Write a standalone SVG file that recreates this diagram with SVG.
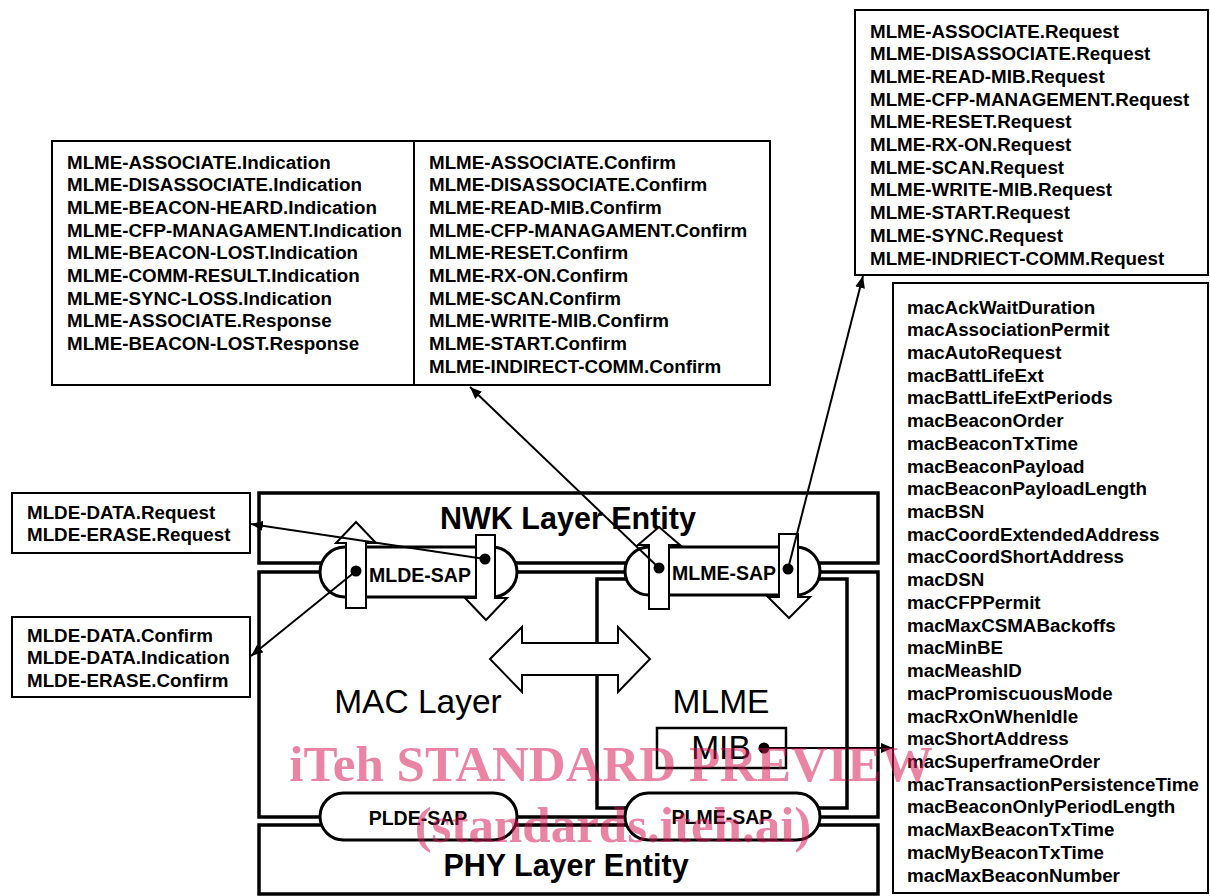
<svg xmlns="http://www.w3.org/2000/svg" width="1210" height="896" viewBox="0 0 1210 896">
<defs>
<style>
.box{fill:#fff;stroke:#000;stroke-width:2}
.layer{fill:none;stroke:#000;stroke-width:3.5}
.sap{fill:#fff;stroke:#000;stroke-width:3}
.harrow{fill:#fff;stroke:#000;stroke-width:2}
.t{font-family:"Liberation Sans",Arial,sans-serif;font-weight:bold;font-size:18.8px;fill:#000}
.saplbl{font-family:"Liberation Sans",Arial,sans-serif;font-weight:bold;font-size:19.5px;fill:#000;text-anchor:middle}
.big{font-family:"Liberation Sans",Arial,sans-serif;font-weight:bold;font-size:30.5px;fill:#000;text-anchor:middle}
.reg{font-family:"Liberation Sans",Arial,sans-serif;font-size:33.5px;fill:#000;text-anchor:middle}
.conn{stroke:#000;stroke-width:2;fill:none}
.wm{font-family:"Liberation Serif","Times New Roman",serif;font-weight:bold;font-size:51px;fill:rgb(215,20,80);fill-opacity:0.52;text-anchor:middle}
</style>
<marker id="ah" viewBox="0 0 12 10" refX="12" refY="5" markerWidth="12" markerHeight="10" markerUnits="userSpaceOnUse" orient="auto">
<path d="M0,0 L12,5 L0,10 z" fill="#000"/>
</marker>
</defs>
<rect width="1210" height="896" fill="#fff"/>

<g id="nwk-layer">
<rect class="layer" x="259" y="493" width="619" height="70"/>
<text class="big" x="568" y="529">NWK Layer Entity</text>
</g>
<g id="mac-layer">
<rect class="layer" x="259" y="572" width="619" height="245"/>
<text class="reg" x="418" y="713">MAC Layer</text>
</g>
<g id="mlme">
<rect class="layer" x="597" y="579" width="250" height="229"/>
<text class="reg" x="721" y="713">MLME</text>
</g>
<g id="phy-layer">
<rect class="layer" x="259" y="825" width="619" height="69"/>
<text class="big" x="566" y="876">PHY Layer Entity</text>
</g>
<g id="mib">
<rect x="657" y="728" width="129" height="40" fill="#fff" stroke="#000" stroke-width="2.5"/>
<text class="reg" x="721" y="759">MIB</text>
</g>

<g id="data-exchange-arrow">
<polygon class="harrow" points="490,659 522,627 522,643 618,643 618,627 650,659 618,692 618,675 522,675 522,692"/>
</g>

<g id="mlde-sap">
<rect class="sap" x="320" y="547" width="197" height="50" rx="25" ry="25"/>
<polygon class="harrow" points="356,522 376,543 366,543 366,608 346,608 346,543 336,543"/>
<polygon class="harrow" points="476,535 495,535 495,598 507,598 486,620 465,598 476,598"/>
<text class="saplbl" x="420" y="582">MLDE-SAP</text>
</g>
<g id="mlme-sap">
<rect class="sap" x="625" y="547" width="195" height="48" rx="24" ry="24"/>
<polygon class="harrow" points="659,527 680,545 669,545 669,609 649,609 649,545 638,545"/>
<polygon class="harrow" points="779,534 798,534 798,597 810,597 789,618 768,597 779,597"/>
<text class="saplbl" x="724" y="580">MLME-SAP</text>
</g>
<g id="plde-sap">
<rect class="sap" x="320" y="793" width="197" height="47" rx="23.5" ry="23.5"/>
<text class="saplbl" x="418" y="825">PLDE-SAP</text>
</g>
<g id="plme-sap">
<rect class="sap" x="625" y="793" width="195" height="47" rx="23.5" ry="23.5"/>
<text class="saplbl" x="722" y="824">PLME-SAP</text>
</g>

<g id="mlde-request-box">
<rect class="box" x="12" y="493" width="238" height="60"/>
<text class="t" x="27" y="518.5">MLDE-DATA.Request</text>
<text class="t" x="27" y="541">MLDE-ERASE.Request</text>
</g>
<g id="mlde-confirm-box">
<rect class="box" x="12" y="617" width="238" height="80"/>
<text class="t" x="27" y="641.5">MLDE-DATA.Confirm</text>
<text class="t" x="27" y="664">MLDE-DATA.Indication</text>
<text class="t" x="27" y="686.5">MLDE-ERASE.Confirm</text>
</g>

<g id="mlme-indication-confirm-box">
<rect class="box" x="52" y="141" width="718" height="244"/>
<line x1="414" y1="141" x2="414" y2="385" stroke="#000" stroke-width="2"/>
<text class="t" x="67" y="168.5">MLME-ASSOCIATE.Indication</text>
<text class="t" x="67" y="191.2">MLME-DISASSOCIATE.Indication</text>
<text class="t" x="67" y="213.9">MLME-BEACON-HEARD.Indication</text>
<text class="t" x="67" y="236.6">MLME-CFP-MANAGAMENT.Indication</text>
<text class="t" x="67" y="259.3">MLME-BEACON-LOST.Indication</text>
<text class="t" x="67" y="282">MLME-COMM-RESULT.Indication</text>
<text class="t" x="67" y="304.7">MLME-SYNC-LOSS.Indication</text>
<text class="t" x="67" y="327.4">MLME-ASSOCIATE.Response</text>
<text class="t" x="67" y="350.1">MLME-BEACON-LOST.Response</text>
<text class="t" x="429" y="168.5">MLME-ASSOCIATE.Confirm</text>
<text class="t" x="429" y="191.2">MLME-DISASSOCIATE.Confirm</text>
<text class="t" x="429" y="213.9">MLME-READ-MIB.Confirm</text>
<text class="t" x="429" y="236.6">MLME-CFP-MANAGAMENT.Confirm</text>
<text class="t" x="429" y="259.3">MLME-RESET.Confirm</text>
<text class="t" x="429" y="282">MLME-RX-ON.Confirm</text>
<text class="t" x="429" y="304.7">MLME-SCAN.Confirm</text>
<text class="t" x="429" y="327.4">MLME-WRITE-MIB.Confirm</text>
<text class="t" x="429" y="350.1">MLME-START.Confirm</text>
<text class="t" x="429" y="372.8">MLME-INDIRECT-COMM.Confirm</text>
</g>

<g id="mlme-request-box">
<rect class="box" x="855" y="10" width="353" height="265"/>
<text class="t" x="870" y="37.5">MLME-ASSOCIATE.Request</text>
<text class="t" x="870" y="60.2">MLME-DISASSOCIATE.Request</text>
<text class="t" x="870" y="82.9">MLME-READ-MIB.Request</text>
<text class="t" x="870" y="105.6">MLME-CFP-MANAGEMENT.Request</text>
<text class="t" x="870" y="128.3">MLME-RESET.Request</text>
<text class="t" x="870" y="151">MLME-RX-ON.Request</text>
<text class="t" x="870" y="173.7">MLME-SCAN.Request</text>
<text class="t" x="870" y="196.4">MLME-WRITE-MIB.Request</text>
<text class="t" x="870" y="219.1">MLME-START.Request</text>
<text class="t" x="870" y="241.8">MLME-SYNC.Request</text>
<text class="t" x="870" y="264.5">MLME-INDRIECT-COMM.Request</text>
</g>

<g id="mib-attributes-box">
<rect class="box" x="893" y="283" width="315" height="610"/>
<text class="t" x="907" y="313.5">macAckWaitDuration</text>
<text class="t" x="907" y="336.2">macAssociationPermit</text>
<text class="t" x="907" y="358.9">macAutoRequest</text>
<text class="t" x="907" y="381.7">macBattLifeExt</text>
<text class="t" x="907" y="404.4">macBattLifeExtPeriods</text>
<text class="t" x="907" y="427.1">macBeaconOrder</text>
<text class="t" x="907" y="449.8">macBeaconTxTime</text>
<text class="t" x="907" y="472.5">macBeaconPayload</text>
<text class="t" x="907" y="495.3">macBeaconPayloadLength</text>
<text class="t" x="907" y="518">macBSN</text>
<text class="t" x="907" y="540.7">macCoordExtendedAddress</text>
<text class="t" x="907" y="563.4">macCoordShortAddress</text>
<text class="t" x="907" y="586.1">macDSN</text>
<text class="t" x="907" y="608.9">macCFPPermit</text>
<text class="t" x="907" y="631.6">macMaxCSMABackoffs</text>
<text class="t" x="907" y="654.3">macMinBE</text>
<text class="t" x="907" y="677">macMeashID</text>
<text class="t" x="907" y="699.7">macPromiscuousMode</text>
<text class="t" x="907" y="722.5">macRxOnWhenIdle</text>
<text class="t" x="907" y="745.2">macShortAddress</text>
<text class="t" x="907" y="767.9">macSuperframeOrder</text>
<text class="t" x="907" y="790.6">macTransactionPersistenceTime</text>
<text class="t" x="907" y="813.3">macBeaconOnlyPeriodLength</text>
<text class="t" x="907" y="836.1">macMaxBeaconTxTime</text>
<text class="t" x="907" y="858.8">macMyBeaconTxTime</text>
<text class="t" x="907" y="881.5">macMaxBeaconNumber</text>
</g>

<g id="connectors">
<line class="conn" x1="485" y1="559" x2="251" y2="524" marker-end="url(#ah)"/>
<line class="conn" x1="356" y1="571" x2="251" y2="656" marker-end="url(#ah)"/>
<line class="conn" x1="659" y1="568" x2="470" y2="387" marker-end="url(#ah)"/>
<line class="conn" x1="788" y1="569" x2="863" y2="276" marker-end="url(#ah)"/>
<line class="conn" x1="764" y1="748" x2="893" y2="748" stroke-width="2.5" marker-end="url(#ah)"/>
<circle cx="485" cy="559" r="5.5" fill="#000"/>
<circle cx="356" cy="571" r="5.5" fill="#000"/>
<circle cx="659" cy="568" r="5.5" fill="#000"/>
<circle cx="788" cy="569" r="5.5" fill="#000"/>
<circle cx="764" cy="748" r="5.5" fill="#000"/>
</g>

<g id="watermark">
<text class="wm" x="611" y="781">iTeh STANDARD PREVIEW</text>
<text class="wm" x="613" y="842">(standards.iteh.ai)</text>
</g>
</svg>
